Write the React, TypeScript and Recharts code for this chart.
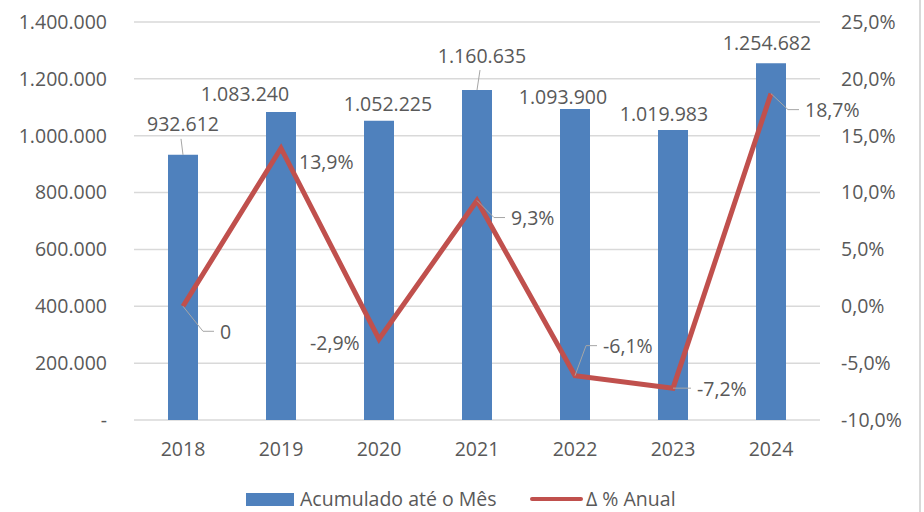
// App.tsx
// Combo chart – accumulated volume per year (bars) and yearly % change (line).

import * as React from "react";
import {
  ComposedChart,
  Bar,
  Line,
  XAxis,
  YAxis,
  CartesianGrid,
  Legend,
  LabelList,
} from "recharts";

const years = ["2018", "2019", "2020", "2021", "2022", "2023", "2024"];
const acumulado = [932612, 1083240, 1052225, 1160635, 1093900, 1019983, 1254682];
const variacao = [0, 13.9, -2.9, 9.3, -6.1, -7.2, 18.7];
const leftTicks = [0, 200000, 400000, 600000, 800000, 1000000, 1200000, 1400000];
const rightTicks = [-10, -5, 0, 5, 10, 15, 20, 25];
const seriesNames = ["Acumulado até o Mês", "Δ % Anual"];

// manual label placement, as in the original workbook (dx, dy, leader line)
const barLabelShift: [number, number, boolean][] = [
  [0, -31, true],
  [-36, -19, false],
  [9, -17, false],
  [5, -35, true],
  [-12, -13, false],
  [-9, -17, false],
  [-4, -21, false],
];
const lineLabelShift: [number, number, boolean][] = [
  [37, 25, true],
  [18, 13, false],
  [-69, 3, false],
  [34, 17, true],
  [28, -30, true],
  [24, 0, true],
  [34, 16, true],
];

const BLUE = "#4F81BD";
const RED = "#C0504D";
const TEXT = "#595959";
const GRID = "#D9D9D9";
const LEADER = "#A6A6A6";
const FONT = "'Open Sans', sans-serif";
const FS = 19.5;

const data = years.map((y, i) => ({
  ano: y,
  acumulado: acumulado[i],
  variacao: variacao[i],
}));

const fmtThousands = (v: number) =>
  v === 0 ? "-" : String(Math.round(v)).replace(/\B(?=(\d{3})+(?!\d))/g, ".");
const fmtPct = (v: number) => v.toFixed(1).replace(".", ",") + "%";
const fmtLinePct = (v: number) => (v === 0 ? "0" : fmtPct(v));

// eslint-disable-next-line @typescript-eslint/no-explicit-any
const BarLabel = (props: any) => {
  const { x, y, width, value, index } = props;
  const [dx, dy, leader] = barLabelShift[index] || [0, -15, false];
  const cx = Number(x) + Number(width) / 2;
  const lx = cx + dx;
  const ly = Number(y) + dy;
  return (
    <g>
      {leader && (
        <line x1={cx} y1={Number(y)} x2={lx - 2} y2={ly + 15} stroke={LEADER} strokeWidth={1} />
      )}
      <text
        x={lx}
        y={ly}
        textAnchor="middle"
        dominantBaseline="central"
        fill={TEXT}
        fontSize={FS}
        fontFamily={FONT}
      >
        {fmtThousands(value)}
      </text>
    </g>
  );
};

// eslint-disable-next-line @typescript-eslint/no-explicit-any
const LineLabel = (props: any) => {
  const { x, y, value, index } = props;
  const [dx, dy, leader] = lineLabelShift[index] || [10, 0, false];
  const px = Number(x);
  const py = Number(y);
  const left = px + dx;
  const ly = py + dy;
  return (
    <g>
      {leader && (
        <polyline
          points={`${px},${py} ${left - 17},${ly} ${left - 6},${ly}`}
          fill="none"
          stroke={LEADER}
          strokeWidth={1}
        />
      )}
      <text
        x={left}
        y={ly}
        textAnchor="start"
        dominantBaseline="central"
        fill={TEXT}
        fontSize={FS}
        fontFamily={FONT}
      >
        {fmtLinePct(value)}
      </text>
    </g>
  );
};

// legend drawn as a small svg strip so the baseline is predictable
const LegendContent = () => (
  <svg width={924} height={30} style={{ display: "block", overflow: "visible" }}>
    <rect x={246} y={11} width={48} height={13} fill={BLUE} />
    <text x={300} y={24} fill={TEXT} fontSize={FS} fontFamily={FONT}>
      {seriesNames[0]}
    </text>
    <line x1={532} y1={17} x2={581} y2={17} stroke={RED} strokeWidth={4} strokeLinecap="round" />
    <text x={586} y={24} fill={TEXT} fontSize={FS} fontFamily={FONT}>
      {seriesNames[1]}
    </text>
  </svg>
);

const tickStyle = { fontSize: FS, fill: TEXT, fontFamily: FONT };

const App: React.FC = () => {
  return (
    <div style={{ position: "absolute", left: 0, top: 0, width: 924, height: 512, background: "#fff" }}>
      <ComposedChart
        width={924}
        height={512}
        data={data}
        margin={{ top: 22, right: 0, left: 0, bottom: 0 }}
      >
        <CartesianGrid yAxisId="left" vertical={false} stroke={GRID} strokeWidth={1.5} />
        <XAxis
          dataKey="ano"
          tickLine={false}
          axisLine={false}
          tickMargin={16}
          height={62}
          tick={tickStyle}
        />
        <YAxis
          yAxisId="left"
          orientation="left"
          width={134}
          domain={[0, 1400000]}
          ticks={leftTicks}
          tickFormatter={fmtThousands}
          tickLine={false}
          axisLine={false}
          tickMargin={21}
          tick={tickStyle}
          interval={0}
        />
        <YAxis
          yAxisId="right"
          orientation="right"
          width={104}
          domain={[-10, 25]}
          ticks={rightTicks}
          tickFormatter={fmtPct}
          tickLine={false}
          axisLine={false}
          tickMargin={15}
          tick={{ ...tickStyle, textAnchor: "start" }}
          interval={0}
        />
        <Legend
          verticalAlign="bottom"
          height={30}
          wrapperStyle={{ left: 0, width: 924, height: 30 }}
          content={<LegendContent />}
        />
        <Bar
          yAxisId="left"
          dataKey="acumulado"
          name={seriesNames[0]}
          fill={BLUE}
          barSize={30}
          isAnimationActive={false}
        >
          <LabelList dataKey="acumulado" content={<BarLabel />} />
        </Bar>
        <Line
          yAxisId="right"
          type="linear"
          dataKey="variacao"
          name={seriesNames[1]}
          stroke={RED}
          strokeWidth={5}
          dot={false}
          activeDot={false}
          isAnimationActive={false}
        >
          <LabelList dataKey="variacao" content={<LineLabel />} />
        </Line>
      </ComposedChart>
      <div style={{ position: "absolute", left: 919, top: 0, width: 2, height: 512, background: GRID }} />
    </div>
  );
};

export default App;
